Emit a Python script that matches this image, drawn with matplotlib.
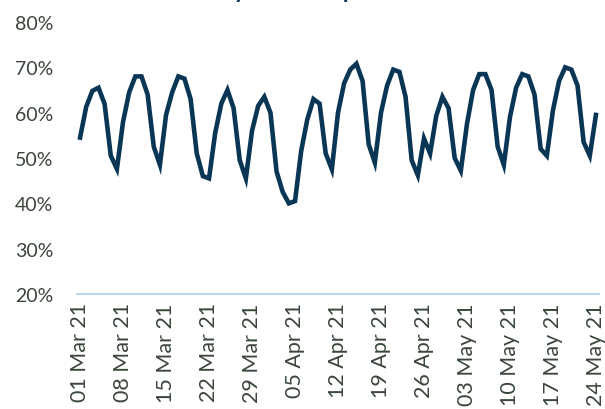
import numpy as np
import pandas as pd
import matplotlib
matplotlib.use('Agg')
from matplotlib import pyplot as plt
from matplotlib.ticker import FuncFormatter

# daily values (%), 01 Mar 21 .. 24 May 21
values = [
    54.5, 61.3, 64.8, 65.5, 61.9, 50.5, 47.6,
    58.0, 64.5, 68.0, 68.0, 64.0, 52.5, 48.5,
    59.5, 64.5, 68.0, 67.5, 63.0, 51.0, 46.0,
    45.5, 55.5, 62.0, 65.0, 61.0, 49.5, 45.5,
    56.0, 61.5, 63.5, 60.0, 47.0, 42.5, 40.0,
    40.5, 51.5, 58.5, 63.0, 62.0, 51.0, 47.5,
    60.0, 66.5, 69.5, 70.8, 67.0, 53.0, 49.0,
    60.0, 66.0, 69.5, 69.0, 63.5, 49.5, 46.2,
    54.3, 51.0, 59.3, 63.5, 61.0, 50.0, 47.2,
    57.5, 65.0, 68.5, 68.5, 65.0, 52.5, 48.5,
    59.0, 65.5, 68.5, 68.0, 64.0, 52.0, 50.5,
    60.5, 67.0, 70.0, 69.5, 66.0, 53.5, 50.5,
    59.5,
]
dates = pd.date_range('2021-03-01', periods=len(values), freq='D')
tick_labels = [d.strftime('%d %b %y') for d in dates[::7]]

navy = '#0A3655'
text_col = '#3A463A'

plt.rcParams['font.family'] = ['Lato', 'DejaVu Sans']

fig = plt.figure(figsize=(6.05, 4.10), dpi=100)
ax = fig.add_axes([77 / 605, 115 / 410, 522 / 605, 272 / 410])

x = np.arange(len(values))
ax.plot(x, values, color=navy, linewidth=3.3, solid_joinstyle='miter')

ax.set_xlim(-0.5, len(values) - 0.5)
ax.set_ylim(20, 80)
ax.set_yticks(np.arange(20, 81, 10))
ax.yaxis.set_major_formatter(FuncFormatter(lambda v, p: '{:.0f}%'.format(v)))
ax.set_xticks(x[::7])
ax.set_xticklabels(tick_labels, rotation=90, va='top', ha='center')

for s in ['top', 'right', 'left']:
    ax.spines[s].set_visible(False)
ax.spines['bottom'].set_color('#BDD7EE')
ax.spines['bottom'].set_linewidth(1.5)
ax.tick_params(axis='both', length=0, labelcolor=text_col)
ax.tick_params(axis='y', pad=17, labelsize=14)
ax.tick_params(axis='x', pad=6, labelsize=15.5)

# title sits above the visible area, only its descenders show
fig.text(192 / 605, 1 + 2 / 410, 'Daily share of peak', color=navy,
         fontsize=17, fontweight='bold', ha='left', va='baseline')

fig.savefig('out.png', dpi=100)
